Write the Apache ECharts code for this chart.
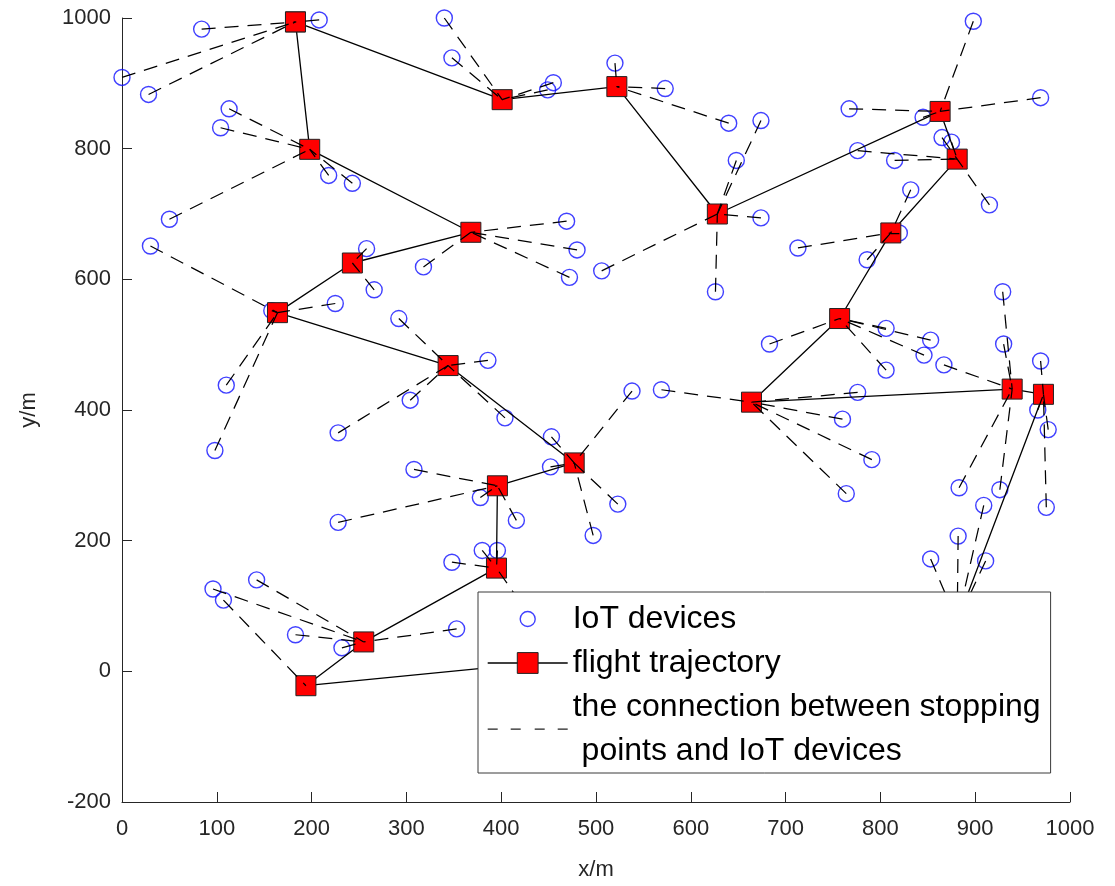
<!DOCTYPE html>
<html>
<head>
<meta charset="utf-8">
<script src="https://cdn.jsdelivr.net/npm/echarts@6/dist/echarts.min.js"></script>
<style>
html,body{margin:0;padding:0;background:#fff;}
#chart{width:1115px;height:886px;}
</style>
</head>
<body>
<div id="chart"></div>
<script>
// Stopping points (flight trajectory order, loop closes back to the first)
var stopX = [183, 198, 368, 243, 164, 344, 477, 396, 395, 255, 194, 881, 972, 939, 664, 757, 811, 881, 863, 628, 522, 401];
var stopY = [994, 799, 672, 625, 549, 468, 319, 284, 158, 45, -22, 76, 424, 432, 412, 540, 671, 784, 857, 700, 895, 875];

// IoT devices and the index of the stopping point each one connects to
var iotX = [0, 84, 28, 208,
  113, 104, 218, 243, 50,
  318, 469, 480, 472,
  258, 266,
  30, 225, 110, 98, 158,
  292, 386, 304, 228, 404,
  453, 538, 452, 523, 497,
  308, 378, 416, 228,
  380, 396, 348, 420,
  142, 96, 183, 232, 353,
  107,
  909, 882, 853, 911,
  969, 966, 977, 975,
  929, 930, 867, 883, 926,
  569, 776, 760, 791, 764,
  683, 806, 853, 846, 806,
  832, 713, 786, 820,
  865, 875, 776, 815, 915,
  898, 969, 767, 845,
  674, 648, 674, 506, 626,
  520, 573, 640,
  340, 348, 455, 449];
var iotY = [909, 983, 883, 997,
  861, 832, 759, 747, 692,
  619, 689, 645, 603,
  647, 584,
  651, 563, 438, 338, 552,
  540, 476, 415, 365, 388,
  359, 429, 313, 256, 208,
  309, 266, 231, 228,
  185, 185, 167, 106,
  140, 126, 56, 36, 65,
  109,
  254, 207, 172, 169,
  475, 400, 370, 251,
  581, 501, 469, 281, 278,
  431, 427, 386, 324, 272,
  501, 525, 507, 484, 461,
  737, 648, 630, 671,
  817, 810, 797, 782, 714,
  995, 878, 861, 848,
  843, 782, 694, 613, 581,
  931, 892, 839,
  1000, 939, 901, 890];
var iotStop = [0, 0, 0, 0,
  1, 1, 1, 1, 1,
  2, 2, 2, 2,
  3, 3,
  4, 4, 4, 4, 4,
  5, 5, 5, 5, 5,
  6, 6, 6, 6, 6,
  7, 7, 7, 7,
  8, 8, 8, 8,
  9, 9, 9, 9, 9,
  10,
  11, 11, 11, 11,
  12, 12, 12, 12,
  13, 13, 13, 13, 13,
  14, 14, 14, 14, 14,
  15, 15, 15, 15, 15,
  16, 16, 16, 16,
  17, 17, 17, 17, 17,
  18, 18, 18, 18,
  19, 19, 19, 19, 19,
  20, 20, 20,
  21, 21, 21, 21];

var xTicks = {min: 0, max: 1000, interval: 100};
var yTicks = {min: -200, max: 1000, interval: 200};

var NAME_IOT = 'IoT devices';
var NAME_TRAJ = 'flight trajectory';
var NAME_CONN = 'the connection between stopping points and IoT devices';

var iotData = iotX.map(function (x, i) { return [x, iotY[i]]; });
var trajData = stopX.map(function (x, i) { return [x, stopY[i]]; });
trajData.push([stopX[0], stopY[0]]);
var connData = iotX.map(function (x, i) {
  var s = iotStop[i];
  return {coords: [[x, iotY[i]], [stopX[s], stopY[s]]]};
});

var FONT = '"Liberation Sans", Arial, Helvetica, sans-serif';
var AX = '#262626';
function plain(v) { return String(v); }

var chart = echarts.init(document.getElementById('chart'), null, {renderer: 'canvas'});
chart.setOption({
  animation: false,
  backgroundColor: '#ffffff',
  grid: {left: 122, right: 45, top: 18, bottom: 80, containLabel: false},
  xAxis: {
    type: 'value', min: xTicks.min, max: xTicks.max, interval: xTicks.interval,
    name: 'x/m', nameLocation: 'middle', nameGap: 57,
    nameTextStyle: {fontSize: 22, color: AX, fontFamily: FONT},
    axisLine: {show: true, onZero: false, lineStyle: {color: AX, width: 1}},
    axisTick: {show: true, inside: true, length: 10, lineStyle: {color: AX}},
    axisLabel: {fontSize: 22, color: AX, fontFamily: FONT, margin: 16, formatter: plain},
    splitLine: {show: false}
  },
  yAxis: {
    type: 'value', min: yTicks.min, max: yTicks.max, interval: yTicks.interval,
    name: 'y/m', nameLocation: 'middle', nameGap: 82,
    nameTextStyle: {fontSize: 22, color: AX, fontFamily: FONT},
    axisLine: {show: true, onZero: false, lineStyle: {color: AX, width: 1}},
    axisTick: {show: true, inside: true, length: 10, lineStyle: {color: AX}},
    axisLabel: {fontSize: 22, color: AX, fontFamily: FONT, margin: 11, formatter: plain},
    splitLine: {show: false}
  },
  legend: {
    orient: 'vertical', left: 478, top: 592,
    padding: [5, 10, 0, 9], itemGap: 0, itemWidth: 80, itemHeight: 26,
    backgroundColor: '#ffffff', borderColor: '#3a3a3a', borderWidth: 1,
    selectedMode: false, z: 10,
    textStyle: {fontSize: 32, lineHeight: 44, color: '#000', fontFamily: FONT},
    formatter: function (n) {
      return n === NAME_CONN ? 'the connection between stopping\n points and IoT devices' : n;
    },
    data: [
      {name: NAME_IOT, icon: 'path://M0,0M80,26M32.5,13A7.5,7.5,0,1,1,47.5,13A7.5,7.5,0,1,1,32.5,13Z',
        itemStyle: {borderWidth: 1.4}},
      {name: NAME_TRAJ, itemStyle: {borderWidth: 1}, lineStyle: {width: 1.3}},
      {name: NAME_CONN,
        icon: 'path://M0,0M80,26M0,12.4h10v1.4h-10zM23,12.4h10v1.4h-10zM47,12.4h10v1.4h-10zM70,12.4h10v1.4h-10z',
        itemStyle: {color: '#222', borderWidth: 0}}
    ]
  },
  series: [
    {
      name: NAME_IOT, type: 'scatter', z: 1, clip: false,
      symbol: 'circle', symbolSize: 16,
      itemStyle: {color: 'rgba(0,0,0,0)', borderColor: '#1010ff', borderWidth: 1.4},
      data: iotData
    },
    {
      name: NAME_TRAJ, type: 'line', z: 2, clip: false,
      symbol: 'rect', symbolSize: 20, showAllSymbol: true,
      lineStyle: {color: '#000', width: 1.3},
      itemStyle: {color: '#ff0000', borderColor: '#222', borderWidth: 1},
      data: trajData
    },
    {
      name: NAME_CONN, type: 'lines', coordinateSystem: 'cartesian2d', z: 3,
      lineStyle: {color: '#000', width: 1.25, type: [14, 9], opacity: 1},
      itemStyle: {color: '#000'},
      data: connData
    }
  ]
});
</script>
</body>
</html>
